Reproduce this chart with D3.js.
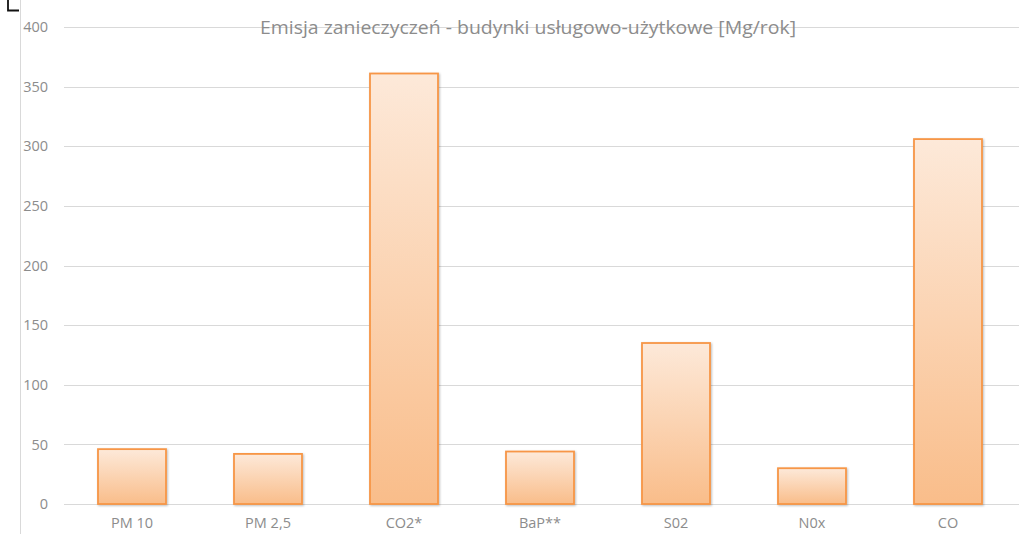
<!DOCTYPE html>
<html><head><meta charset="utf-8">
<script src="https://cdn.jsdelivr.net/npm/d3@7"></script>
<style>body{margin:0;background:#fff}svg{display:block}</style>
</head><body>
<svg id="c" width="1019" height="534"></svg>
<script>
const categories = ["PM 10", "PM 2,5", "CO2*", "BaP**", "S02", "N0x", "CO"];
const values = [46, 42, 361, 44, 135, 30, 306];
const yTicks = [0, 50, 100, 150, 200, 250, 300, 350, 400];
const title = "Emisja zanieczyczeń - budynki usługowo-użytkowe [Mg/rok]";

const svg = d3.select("#c");
const font = "'Open Sans', 'Liberation Sans', sans-serif";
const x = d3.scaleBand().domain(categories).range([64, 1016]).paddingInner(0.5).paddingOuter(0.25);
const y = d3.scaleLinear().domain([0, 400]).range([504, 27]);

const defs = svg.append("defs");
const g = defs.append("linearGradient").attr("id", "gr").attr("x1", 0).attr("y1", 0).attr("x2", 0).attr("y2", 1);
g.append("stop").attr("offset", "0%").attr("stop-color", "#fde9d9");
g.append("stop").attr("offset", "100%").attr("stop-color", "#f9bd8a");
const f = defs.append("filter").attr("id", "sh").attr("x", "-20%").attr("y", "-20%").attr("width", "140%").attr("height", "140%");
f.append("feDropShadow").attr("dx", 1).attr("dy", 1).attr("stdDeviation", 1.2).attr("flood-color", "#000").attr("flood-opacity", 0.25);

// left frame line and corner mark
svg.append("line").attr("x1", 20.5).attr("x2", 20.5).attr("y1", 0).attr("y2", 534).attr("stroke", "#d9d9d9").attr("stroke-width", 1);
svg.append("path").attr("d", "M8,0 V10.5 H19").attr("fill", "none").attr("stroke", "#111").attr("stroke-width", 1.8);

// gridlines
svg.append("g").selectAll("line").data(yTicks).join("line")
  .attr("x1", 64).attr("x2", 1019)
  .attr("y1", d => Math.round(y(d)) + 0.5).attr("y2", d => Math.round(y(d)) + 0.5)
  .attr("stroke", "#d9d9d9").attr("stroke-width", 1);

// y axis
const ya = svg.append("g").attr("transform", "translate(48,0)")
  .call(d3.axisLeft(y).tickValues(yTicks).tickSize(0).tickPadding(0));
ya.select(".domain").remove();
ya.selectAll("text").attr("font-family", font).attr("font-size", 14.5).attr("fill", "#8c8c8c");

// x axis
const xa = svg.append("g").attr("transform", "translate(0,518)")
  .call(d3.axisBottom(x).tickSize(0).tickPadding(0));
xa.select(".domain").remove();
xa.selectAll("text").attr("font-family", font).attr("font-size", 14.5).attr("fill", "#8c8c8c");

// title
svg.append("text").attr("x", 528).attr("y", 34).attr("text-anchor", "middle")
  .attr("font-family", font).attr("font-size", 18.5).attr("fill", "#8c8c8c")
  .attr("textLength", 536).attr("lengthAdjust", "spacingAndGlyphs").text(title);

// bars
svg.append("g").selectAll("rect").data(values).join("rect")
  .attr("x", (d, i) => x(categories[i]))
  .attr("width", x.bandwidth())
  .attr("y", d => y(d))
  .attr("height", d => y(0) - y(d))
  .attr("fill", "url(#gr)")
  .attr("stroke", "#f79646").attr("stroke-width", 1.8)
  .attr("filter", "url(#sh)");
</script>
</body></html>
